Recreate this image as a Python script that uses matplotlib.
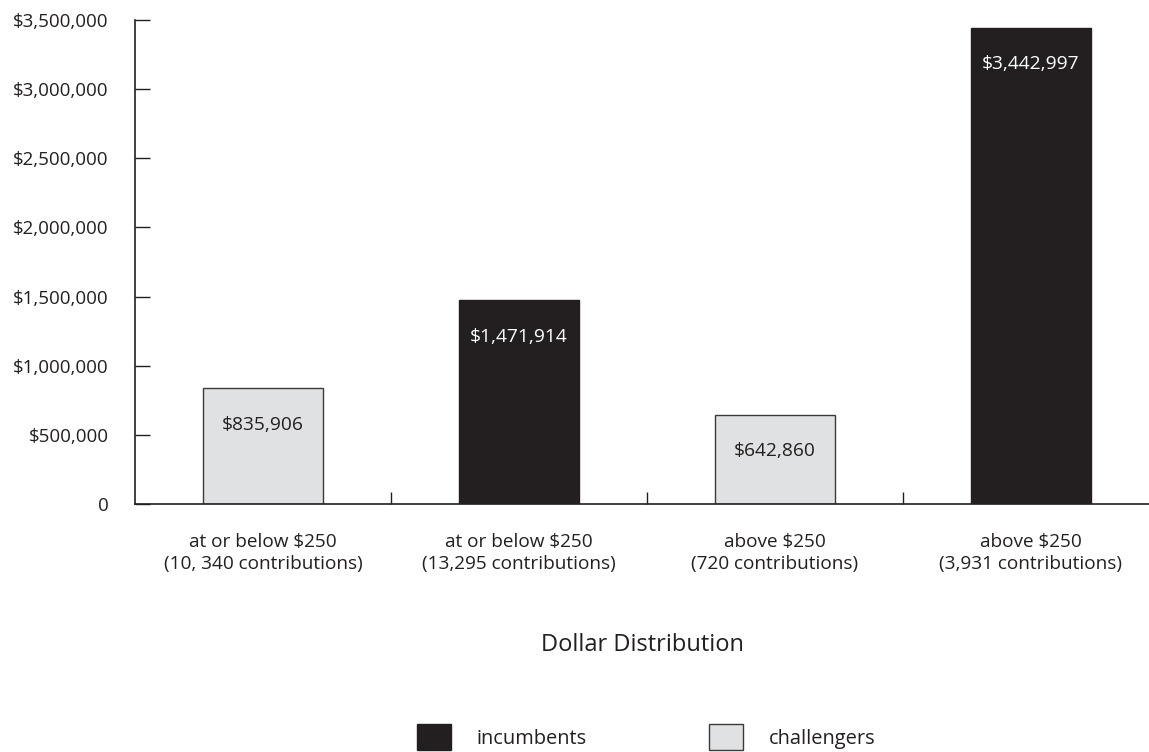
import matplotlib
matplotlib.use("Agg")
import matplotlib.pyplot as plt
from matplotlib.patches import Patch
from matplotlib.ticker import FuncFormatter, FixedLocator

categories = ["at or below $250\n(10, 340 contributions)",
              "at or below $250\n(13,295 contributions)",
              "above $250\n(720 contributions)",
              "above $250\n(3,931 contributions)"]
values = [835906, 1471914, 642860, 3442997]
groups = ["challengers", "incumbents", "challengers", "incumbents"]
yticks = [0, 500000, 1000000, 1500000, 2000000, 2500000, 3000000, 3500000]

BLACK = "#231f20"
GRAY = "#e0e1e3"
EDGE = "#3a3a3a"
TEXT = "#231f20"

plt.rcParams['font.family'] = ['Open Sans', 'DejaVu Sans']

fig = plt.figure(figsize=(11.49, 7.52), dpi=100)
ax = fig.add_axes([135/1149, (752-504)/752, 1024/1149, 484/752])

xs = list(range(len(values)))
colors = [BLACK if g == "incumbents" else GRAY for g in groups]
edges = [BLACK if g == "incumbents" else EDGE for g in groups]
ax.bar(xs, values, width=0.465, color=colors, edgecolor=edges, linewidth=1.0, zorder=2)

for x, v, g in zip(xs, values, groups):
    ax.annotate(f"${v:,}", xy=(x, v), xytext=(0, -26), textcoords="offset points",
                ha="center", va="center", fontsize=13.8,
                color="white" if g == "incumbents" else TEXT)

ax.set_xlim(-0.5, 3.5)
ax.set_ylim(0, 3500000)
ax.yaxis.set_major_locator(FixedLocator(yticks))
ax.yaxis.set_major_formatter(FuncFormatter(lambda v, p: "0" if v == 0 else f"${int(v):,}"))
ax.tick_params(axis='y', direction='in', length=11, width=1, pad=19, labelsize=13.5,
               colors=TEXT)

ax.set_xticks(xs)
ax.set_xticklabels(categories, fontsize=13.7, color=TEXT, linespacing=1.3)
ax.tick_params(axis='x', which='major', length=0, pad=21)
ax.set_xticks([0.5, 1.5, 2.5], minor=True)
ax.tick_params(axis='x', which='minor', direction='in', length=9, width=1, color=TEXT)

for s in ['top', 'right']:
    ax.spines[s].set_visible(False)
for s in ['left', 'bottom']:
    ax.spines[s].set_linewidth(1.2)
    ax.spines[s].set_color(TEXT)

fig.text(642/1149, 1 - 645/752, "Dollar Distribution", ha="center", va="center",
         fontsize=17, color=TEXT)

handles = [Patch(facecolor=BLACK, edgecolor=BLACK, label="incumbents"),
           Patch(facecolor=GRAY, edgecolor=EDGE, label="challengers")]
fig.legend(handles=handles, loc="center", bbox_to_anchor=(646/1149, 1 - 737/752),
           ncol=2, frameon=False, fontsize=14.4, handlelength=1.7, handleheight=1.6,
           handletextpad=1.3, columnspacing=6.1, labelcolor=TEXT)

fig.savefig("out.png", dpi=100)
